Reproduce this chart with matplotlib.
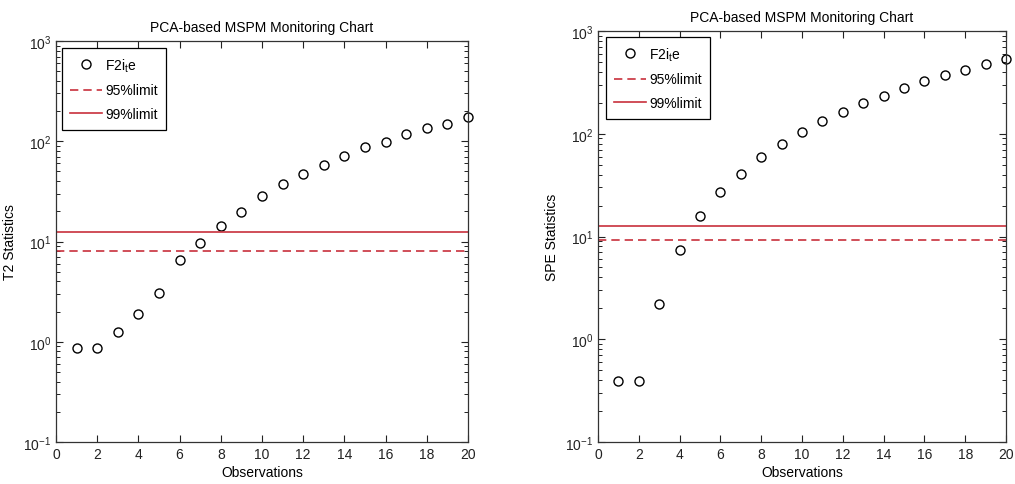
import matplotlib
matplotlib.use("Agg")
import matplotlib.pyplot as plt
from matplotlib import font_manager
from matplotlib.ticker import LogLocator, FixedLocator, NullFormatter

fams = {f.name for f in font_manager.fontManager.ttflist}
FONT = "Liberation Sans Narrow" if "Liberation Sans Narrow" in fams else "Liberation Sans"
plt.rcParams["font.family"] = [FONT, "DejaVu Sans"]
plt.rcParams["mathtext.fontset"] = "custom"
plt.rcParams["mathtext.rm"] = FONT
plt.rcParams["mathtext.it"] = FONT
plt.rcParams["mathtext.bf"] = FONT
plt.rcParams["axes.unicode_minus"] = False

# ---------------- data ----------------
observations = list(range(1, 21))
t2_values = [0.87, 0.87, 1.25, 1.87, 3.05, 6.5, 9.75, 14.3, 19.7, 28.4,
             37.7, 46.7, 57.8, 70.6, 86.8, 98.8, 117, 135, 150, 173]
spe_values = [0.39, 0.39, 2.19, 7.4, 15.7, 27.4, 40.8, 59.6, 80.1, 104.7,
              131.6, 163, 199, 233, 277, 326, 374, 419, 477, 535]
t2_limit95 = 8.1
t2_limit99 = 12.5
spe_limit95 = 9.2
spe_limit99 = 12.6
title = "PCA-based MSPM Monitoring Chart"
series_label = r"F2i$_{\mathrm{t}}$e"
limit95_label = "95%limit"
limit99_label = "99%limit"
x_label = "Observations"
y_labels = ["T2 Statistics", "SPE Statistics"]
x_ticks = list(range(0, 21, 2))

RED = "#c8303c"
W, H = 1015, 485
fig = plt.figure(figsize=(W / 100, H / 100), dpi=100)

def px_axes(x0, y0, x1, y1):
    return fig.add_axes([x0 / W, (H - y1) / H, (x1 - x0) / W, (y1 - y0) / H])

panels = [
    (px_axes(56, 42, 468, 443), t2_values, t2_limit95, t2_limit99, y_labels[0], (6, 7)),
    (px_axes(598, 32, 1006, 443), spe_values, spe_limit95, spe_limit99, y_labels[1], (8, 6)),
]

for ax, vals, l95, l99, ylab, (lx, ly) in panels:
    ax.set_yscale("log")
    ax.plot(observations, vals, linestyle="none", marker="o", markersize=6.5,
            markerfacecolor="none", markeredgecolor="black", markeredgewidth=1.0,
            label=series_label, clip_on=False)
    ax.axhline(l95, color=RED, linestyle=(0, (5, 3)), linewidth=1.2, label=limit95_label)
    ax.axhline(l99, color=RED, linestyle="-", linewidth=1.2, label=limit99_label)
    ax.set_xlim(0, 20)
    ax.set_ylim(0.1, 1000)
    ax.xaxis.set_major_locator(FixedLocator(x_ticks))
    ax.yaxis.set_major_locator(LogLocator(base=10, numticks=10))
    ax.yaxis.set_minor_locator(LogLocator(base=10, subs=range(2, 10), numticks=20))
    ax.yaxis.set_minor_formatter(NullFormatter())
    ax.tick_params(which="both", direction="in", top=True, right=True,
                   labelsize=10, colors="#222222")
    ax.tick_params(which="major", length=5, width=0.8)
    ax.tick_params(which="minor", length=3, width=0.7)
    for s in ax.spines.values():
        s.set_linewidth(0.9)
        s.set_color("#333333")
    ax.set_title(title, fontsize=10, pad=7)
    ax.set_xlabel(x_label, fontsize=10, labelpad=3)
    ax.set_ylabel(ylab, fontsize=10, labelpad=4)
    bbox = ax.get_position()
    ax_w = bbox.width * W
    ax_h = bbox.height * H
    leg = ax.legend(loc="upper left", bbox_to_anchor=(lx / ax_w, 1 - ly / ax_h),
                    borderaxespad=0, fancybox=False, framealpha=1,
                    edgecolor="black", fontsize=10, handlelength=2.3,
                    handletextpad=0.2, borderpad=0.6, labelspacing=0.7)
    leg.get_frame().set_linewidth(0.9)

fig.savefig("out.png", dpi=100)
